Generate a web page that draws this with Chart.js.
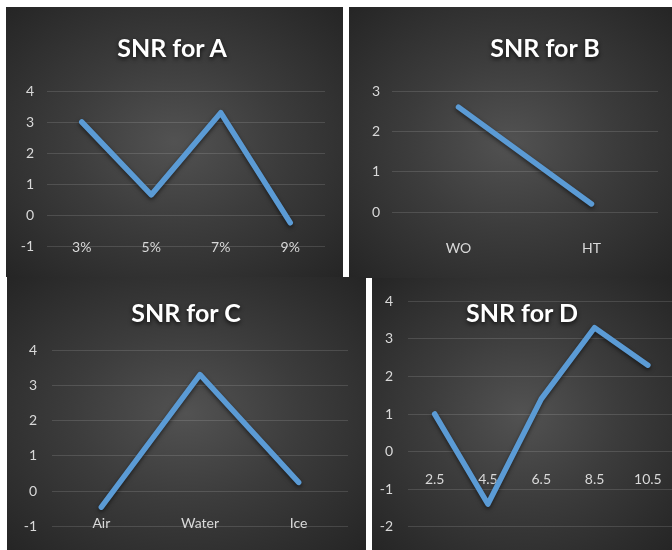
<!DOCTYPE html>
<html>
<head>
<meta charset="utf-8">
<script src="https://cdn.jsdelivr.net/npm/chart.js@4.4.1/dist/chart.umd.min.js"></script>
<style>
body { margin:0; background:#fff; width:672px; height:550px; position:relative; overflow:hidden; font-family: Lato, sans-serif; }
.panel { position:absolute; overflow:hidden; background: radial-gradient(ellipse farthest-corner at 50% 50%, #525252 0%, #3c3c3c 45%, #252525 100%); }
.panel canvas { position:absolute; left:0; top:0; }
.title { position:absolute; transform:translate(-50%,-50%); color:#fff; font-weight:bold; font-size:25px; font-family:Lato, sans-serif; white-space:nowrap; text-shadow: 0 2px 4px rgba(0,0,0,.75); }
</style>
</head>
<body>
<div class="panel" style="left:6px;top:7px;width:337px;height:270px">
  <canvas id="chartA" width="337" height="270"></canvas>
  <div class="title" style="left:166px;top:40px">SNR for A</div>
</div>
<div class="panel" style="left:349px;top:7px;width:323px;height:271px">
  <canvas id="chartB" width="323" height="271"></canvas>
  <div class="title" style="left:196px;top:40px">SNR for B</div>
</div>
<div class="panel" style="left:7px;top:277px;width:359px;height:273px">
  <canvas id="chartC" width="359" height="273"></canvas>
  <div class="title" style="left:179px;top:35px">SNR for C</div>
</div>
<div class="panel" style="left:372px;top:278px;width:300px;height:272px">
  <canvas id="chartD" width="310" height="272"></canvas>
  <div class="title" style="left:150px;top:34px">SNR for D</div>
</div>
<script>
const labelsA = ['3%', '5%', '7%', '9%']
const snrA = [3.0, 0.65, 3.3, -0.25]

const labelsB = ['WO', 'HT']
const snrB = [2.6, 0.2]

const labelsC = ['Air', 'Water', 'Ice']
const snrC = [-0.45, 3.3, 0.25]

const labelsD = ['2.5', '4.5', '6.5', '8.5', '10.5']
const snrD = [1.0, -1.4, 1.4, 3.3, 2.3]

const tickFont = { family: 'Lato', size: 14 }

// soft shadow under the blue line
const shadowPlugin = {
    id: 'lineShadow',
    beforeDatasetsDraw(chart) {
        const c = chart.ctx
        c.save()
        c.shadowColor = 'rgba(0,0,0,0.55)'
        c.shadowBlur = 4
        c.shadowOffsetY = 2
    },
    afterDatasetsDraw(chart) {
        chart.ctx.restore()
    }
}

const makeChart = (id, labels, values, opt) => {
    const config = {
        type: 'line',
        data: {
            labels: labels,
            datasets: [{
                data: values,
                borderColor: '#5b9bd5',
                borderWidth: 5.5,
                borderCapStyle: 'round',
                borderJoinStyle: 'round',
                pointRadius: 0,
                tension: 0,
                clip: false
            }]
        },
        options: {
            responsive: false,
            animation: false,
            devicePixelRatio: 1,
            layout: { padding: { top: opt.top, right: opt.right, left: 0, bottom: opt.bottom } },
            plugins: {
                legend: { display: false },
                tooltip: { enabled: false },
                title: { display: false }
            },
            scales: {
                x: {
                    position: { y: opt.axisAt },
                    offset: true,
                    grid: { display: false, drawTicks: false },
                    border: { display: false },
                    ticks: { color: '#d9d9d9', font: tickFont, padding: opt.xPad, autoSkip: false, maxRotation: 0 }
                },
                y: {
                    min: opt.min,
                    max: opt.max,
                    grid: { color: 'rgba(255,255,255,0.13)', drawTicks: false, lineWidth: 1 },
                    border: { display: false },
                    ticks: { stepSize: 1, color: '#d9d9d9', font: tickFont, padding: opt.yPad },
                    afterFit: (s) => { s.width = opt.yW }
                }
            }
        },
        plugins: [shadowPlugin]
    }
    return new Chart(document.getElementById(id), config)
}

makeChart('chartA', labelsA, snrA, { top: 84, right: 18, bottom: 31, yW: 41, min: -1, max: 4, axisAt: -1, xPad: -7, yPad: 13 })
makeChart('chartB', labelsB, snrB, { top: 84, right: 14, bottom: 66, yW: 43, min: 0, max: 3, axisAt: 0, xPad: 28, yPad: 12 })
makeChart('chartC', labelsC, snrC, { top: 73, right: 18, bottom: 18, yW: 45, min: -1, max: 4, axisAt: -1, xPad: -12, yPad: 15 })
makeChart('chartD', labelsD, snrD, { top: 11, right: 3, bottom: 18, yW: 36, min: -2, max: 4, axisAt: 0, xPad: 20, yPad: 15 })
</script>
</body>
</html>
